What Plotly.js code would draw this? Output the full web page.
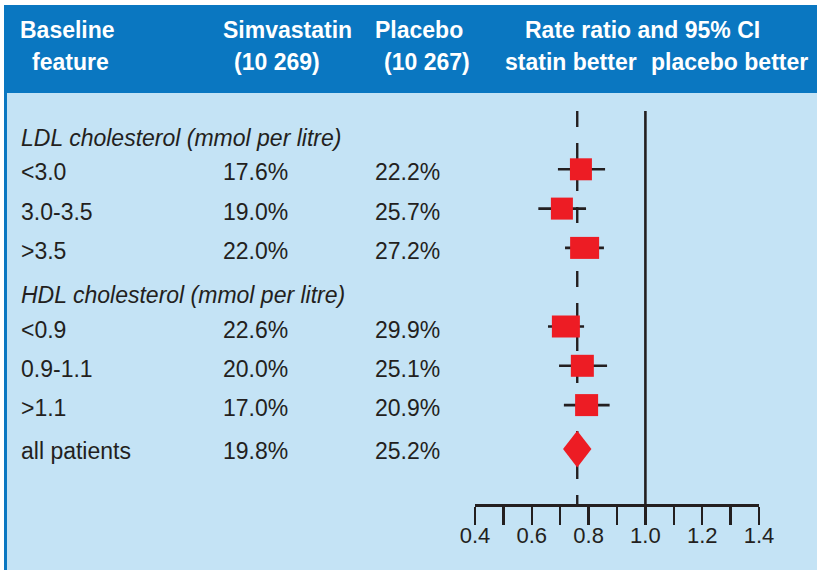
<!DOCTYPE html>
<html><head><meta charset="utf-8">
<script src="https://cdn.plot.ly/plotly-3.0.1.min.js"></script>
<style>html,body{margin:0;padding:0;background:#fff}</style>
</head><body><div id="chart" style="width:817px;height:570px"></div>
<script>
// ---- data ----
const groupHeaders = ['LDL cholesterol (mmol per litre)', 'HDL cholesterol (mmol per litre)'];
const groupRows = [0, 4];
const labels = ['<3.0', '3.0-3.5', '>3.5', '<0.9', '0.9-1.1', '>1.1'];
const rows = [1, 2, 3, 5, 6, 7];
const simvaPct = ['17.6%', '19.0%', '22.0%', '22.6%', '20.0%', '17.0%'];
const placeboPct = ['22.2%', '25.7%', '27.2%', '29.9%', '25.1%', '20.9%'];
const ratio = [0.773, 0.706, 0.786, 0.720, 0.778, 0.793];
const ciLow = [0.692, 0.623, 0.717, 0.657, 0.696, 0.713];
const ciHigh = [0.858, 0.791, 0.854, 0.784, 0.865, 0.874];
const boxWeight = [22, 22, 29, 28, 23, 23];
const overallLabel = ['all patients'];
const overallRow = [8.12];
const overallSimva = ['19.8%'];
const overallPlacebo = ['25.2%'];
const overallRatio = [0.76];
const overallLow = [0.71];
const overallHigh = [0.81];
const xTickVals = [0.4, 0.5, 0.6, 0.7, 0.8, 0.9, 1.0, 1.1, 1.2, 1.3, 1.4];
const xTickText = ['0.4', '', '0.6', '', '0.8', '', '1.0', '', '1.2', '', '1.4'];
const headerLine1 = ['Baseline', 'Simvastatin', 'Placebo', 'Rate ratio and 95% CI'];
const headerLine2 = ['feature', '(10 269)', '(10 267)', 'statin better', 'placebo better'];

// ---- layout constants ----
const W = 817, H = 570;
const DARK = '#231f20', RED = '#ed1c24', BLUE = '#0a77c1', LIGHT = '#c4e3f5';
const FONT = '"Liberation Sans", Arial, Helvetica, sans-serif';
const rowPx = 39.3, row0Px = 130, axisPx = 504;
const yTopIdx = (0 - row0Px) / rowPx, yBotIdx = (axisPx - row0Px) / rowPx;
const lineTopIdx = (111 - row0Px) / rowPx;
const diamondHalf = 0.47;

function esc(s) { return s.replace(/</g, '&lt;').replace(/>/g, '&gt;'); }
const px = v => v / W;
const py = v => (H - v) / H;

const annotations = [];
function addPaper(text, xc, yc, anchor) {
  annotations.push({ text: text, xref: 'paper', yref: 'paper', x: px(xc), y: py(yc),
    xanchor: anchor, yanchor: 'middle', showarrow: false,
    font: { family: FONT, size: 23, color: '#ffffff' } });
}
const h1x = [67, 287, 419, 642];
headerLine1.forEach((t, i) => addPaper('<b>' + t + '</b>', h1x[i], 30, 'center'));
const h2x = [70, 277, 427, 571, 729];
headerLine2.forEach((t, i) => addPaper('<b>' + t + '</b>', h2x[i], 62, 'center'));

function addRowText(text, xPix, yIdx, anchor, italic, shift) {
  annotations.push({ text: text, xref: 'paper', yref: 'y', x: px(xPix), y: yIdx,
    xanchor: anchor, yanchor: 'middle', showarrow: false, yshift: shift,
    font: { family: FONT, size: 23, color: DARK, style: italic ? 'italic' : 'normal' } });
}
groupHeaders.forEach((t, i) => addRowText(t, 19, groupRows[i], 'left', true, -7.5));
labels.forEach((t, i) => {
  addRowText(esc(t), 19, rows[i], 'left', false, -3);
  addRowText(simvaPct[i], 221, rows[i], 'left', false, -3);
  addRowText(placeboPct[i], 442, rows[i], 'right', false, -3);
});
overallLabel.forEach((t, i) => {
  addRowText(t, 19, overallRow[i], 'left', false, -2);
  addRowText(overallSimva[i], 221, overallRow[i], 'left', false, -2);
  addRowText(overallPlacebo[i], 442, overallRow[i], 'right', false, -2);
});

const shapes = [
  { type: 'rect', xref: 'paper', yref: 'paper', x0: px(4), x1: 1, y0: 0, y1: py(5),
    fillcolor: BLUE, line: { width: 0 }, layer: 'below' },
  { type: 'rect', xref: 'paper', yref: 'paper', x0: px(7), x1: 1, y0: 0, y1: py(93),
    fillcolor: LIGHT, line: { width: 0 }, layer: 'below' },
  { type: 'line', xref: 'x', yref: 'y', x0: overallRatio[0], x1: overallRatio[0], y0: lineTopIdx, y1: yBotIdx,
    line: { color: DARK, width: 2.4, dash: '16px,16px' } },
  { type: 'line', xref: 'x', yref: 'y', x0: 1.0, x1: 1.0, y0: lineTopIdx, y1: yBotIdx,
    line: { color: DARK, width: 2.6 } }
];
ratio.forEach((r, i) => shapes.push({
  type: 'rect', xref: 'x', yref: 'y', xsizemode: 'pixel', ysizemode: 'pixel',
  xanchor: r, yanchor: rows[i], x0: -boxWeight[i] / 2, x1: boxWeight[i] / 2, y0: -11, y1: 11,
  fillcolor: RED, line: { width: 0 } }));
overallRatio.forEach((r, i) => {
  const y = overallRow[i];
  shapes.push({ type: 'path', xref: 'x', yref: 'y',
    path: `M ${overallLow[i]},${y} L ${r},${y - diamondHalf} L ${overallHigh[i]},${y} L ${r},${y + diamondHalf} Z`,
    fillcolor: RED, line: { width: 0 } });
});

const traces = [{
  type: 'scatter', mode: 'markers', x: ratio, y: rows, hoverinfo: 'skip',
  marker: { size: 1, opacity: 0 },
  error_x: { type: 'data', symmetric: false,
    array: ratio.map((r, i) => ciHigh[i] - r), arrayminus: ratio.map((r, i) => r - ciLow[i]),
    color: DARK, thickness: 2.6, width: 0 }
}];

const layout = {
  width: W, height: H, margin: { l: 0, r: 0, t: 0, b: 0 },
  paper_bgcolor: '#ffffff', plot_bgcolor: 'rgba(0,0,0,0)', showlegend: false,
  font: { family: FONT, color: DARK },
  xaxis: { domain: [475 / W, 759 / W], range: [0.4, 1.4], anchor: 'y',
    showgrid: false, zeroline: false, showline: true, linecolor: DARK, linewidth: 2.5,
    ticks: 'outside', ticklen: 18, tickwidth: 2.5, tickcolor: DARK,
    tickmode: 'array', tickvals: xTickVals, ticktext: xTickText, ticklabelstandoff: -8,
    tickfont: { family: FONT, size: 22, color: DARK }, fixedrange: true },
  yaxis: { domain: [(H - axisPx) / H, 1], range: [yBotIdx, yTopIdx], visible: false, fixedrange: true },
  shapes: shapes, annotations: annotations
};
Plotly.newPlot('chart', traces, layout, { staticPlot: true, displayModeBar: false });
</script></body></html>
